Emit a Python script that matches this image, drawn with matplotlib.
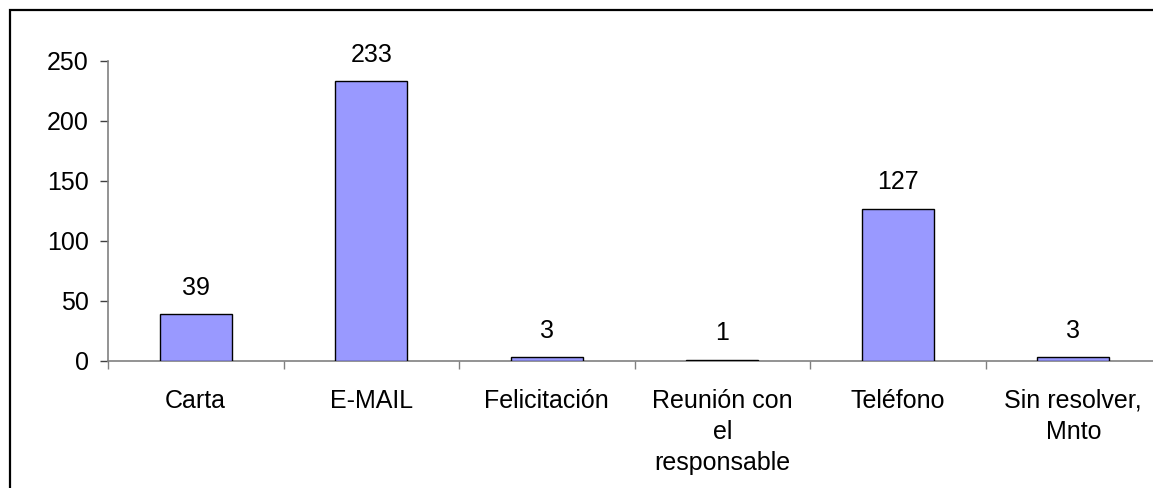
import matplotlib
matplotlib.use("Agg")
import matplotlib.pyplot as plt
from matplotlib.patches import Rectangle

categories = ["Carta", "E-MAIL", "Felicitación", "Reunión con\nel\nresponsable", "Teléfono", "Sin resolver,\nMnto"]
values = [39, 233, 3, 1, 127, 3]
yticks = [0, 50, 100, 150, 200, 250]

plt.rcParams['font.family'] = ['Liberation Sans', 'DejaVu Sans']

W, H = 1153, 488
fig = plt.figure(figsize=(W / 100, H / 100), dpi=100)
fig.patch.set_facecolor("white")

# outer chart frame (cut off at right and bottom as in the reference)
fig.patches.append(Rectangle((10 / W, -0.1), 1.2, 1 - 10 / H + 0.1, transform=fig.transFigure,
                             fill=False, edgecolor="black", linewidth=1.6, zorder=0))

left, right = 108 / W, 1161 / W
bottom, top = 1 - 361 / H, 1 - 61 / H
ax = fig.add_axes([left, bottom, right - left, top - bottom])
ax.set_facecolor("none")

x = list(range(len(categories)))
bars = ax.bar(x, values, width=0.41, color="#9999FF", edgecolor="black", linewidth=1.0, zorder=3)
for xi, v in zip(x, values):
    ax.annotate(str(v), (xi, v), xytext=(0, 14), textcoords="offset points",
                ha="center", va="baseline", fontsize=18)

ax.set_xlim(-0.5, len(categories) - 0.5)
ax.set_ylim(0, 250)
ax.set_yticks(yticks)
ax.set_yticklabels([str(t) for t in yticks])
ax.set_xticks(x)
ax.set_xticklabels(categories, fontsize=18, linespacing=1.38, va="top")
ax.set_xticks([i - 0.5 for i in range(len(categories) + 1)], minor=True)

for s in ["top", "right"]:
    ax.spines[s].set_visible(False)
ax.spines["left"].set_color("#808080")
ax.spines["bottom"].set_color("#808080")
ax.spines["left"].set_linewidth(1.2)
ax.spines["bottom"].set_linewidth(1.2)

ax.tick_params(axis="y", direction="out", length=6, width=1.0, color="#404040",
               labelsize=18, pad=8)
ax.tick_params(axis="x", which="major", length=0, pad=20)
ax.tick_params(axis="x", which="minor", direction="out", length=6, width=1.0, color="#808080")

fig.savefig("out.png", dpi=100, facecolor="white")
